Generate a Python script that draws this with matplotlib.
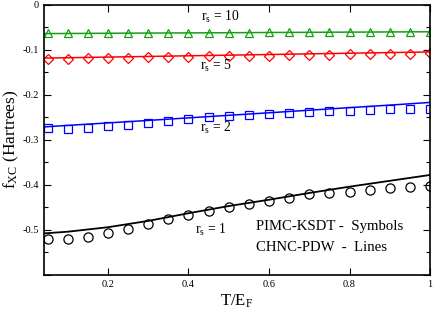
import numpy as np
import matplotlib
matplotlib.use("Agg")
import matplotlib.pyplot as plt
from matplotlib.ticker import MultipleLocator

plt.rcParams['font.family'] = ['Liberation Serif', 'DejaVu Serif']
plt.rcParams['mathtext.fontset'] = 'custom'
plt.rcParams['mathtext.rm'] = 'Liberation Serif'
plt.rcParams['mathtext.it'] = 'Liberation Serif'

# PIMC-KSDT symbols
t_sym = [0.05, 0.10, 0.15, 0.20, 0.25, 0.30, 0.35, 0.40, 0.45, 0.50,
         0.55, 0.60, 0.65, 0.70, 0.75, 0.80, 0.85, 0.90, 0.95, 1.00]
rs1_sym = [-0.520, -0.521, -0.516, -0.507, -0.498, -0.487, -0.476, -0.467, -0.457, -0.450,
           -0.442, -0.436, -0.430, -0.421, -0.418, -0.415, -0.411, -0.407, -0.405, -0.402]
rs2_sym = [-0.274, -0.2755, -0.274, -0.270, -0.2667, -0.263, -0.259, -0.253, -0.2496, -0.2467,
           -0.245, -0.242, -0.2407, -0.2385, -0.237, -0.235, -0.2333, -0.232, -0.231, -0.231]
rs5_sym = [-0.120, -0.120, -0.1195, -0.119, -0.118, -0.117, -0.1165, -0.116, -0.115, -0.1145,
           -0.114, -0.113, -0.1125, -0.112, -0.111, -0.1105, -0.110, -0.109, -0.1085, -0.108]
rs10_sym = [-0.0635, -0.0635, -0.063, -0.063, -0.063, -0.0628, -0.0625, -0.0625, -0.0622, -0.062,
            -0.062, -0.0618, -0.0615, -0.0615, -0.0612, -0.061, -0.061, -0.0608, -0.0605, -0.0605]

# CHNC-PDW lines
t_line = [0.04, 0.10, 0.20, 0.30, 0.40, 0.50, 0.60, 0.70, 0.80, 0.90, 1.00]
rs1_line = [-0.5078, -0.504, -0.494, -0.480, -0.463, -0.447, -0.433, -0.418, -0.404, -0.391, -0.378]
rs2_line = [-0.2715, -0.268, -0.2625, -0.257, -0.2513, -0.2456, -0.240, -0.2343, -0.2286, -0.223, -0.217]
rs5_line = [-0.1186, -0.1178, -0.1164, -0.115, -0.1135, -0.1121, -0.1107, -0.1092, -0.1078, -0.1064, -0.105]
rs10_line = [-0.0642, -0.0640, -0.0635, -0.0631, -0.0627, -0.0623, -0.0618, -0.0614, -0.0610, -0.0606, -0.0602]

fig = plt.figure(figsize=(4.36, 3.10), dpi=100)
ax = fig.add_axes([0.0998, 0.113, 0.8866, 0.872])

green = '#12a012'
ax.plot(t_line, rs1_line, color='black', lw=1.3)
ax.plot(t_line, rs2_line, color='#0000ff', lw=1.1)
ax.plot(t_line, rs5_line, color='#ff0000', lw=1.1)
ax.plot(t_line, rs10_line, color=green, lw=1.1)

ms = 6.2
ax.plot(t_sym, rs1_sym, 'o', mfc='none', mec='black', ms=ms + 0.4, mew=0.9, ls='none')
ax.plot(t_sym, rs2_sym, 's', mfc='none', mec='#0000ff', ms=ms - 0.6, mew=0.9, ls='none')
ax.plot(t_sym, rs5_sym, 'D', mfc='none', mec='#ff0000', ms=ms - 1.4, mew=0.9, ls='none')
ax.plot(t_sym, rs10_sym, '^', mfc='none', mec=green, ms=ms, mew=0.9, ls='none')

ax.set_xlim(0.04, 1.0)
ax.set_ylim(-0.6, 0.0)
ax.yaxis.set_minor_locator(MultipleLocator(0.05))
ax.tick_params(which='both', direction='in', top=True, right=True, labelsize=7.5)
ax.tick_params(which='major', length=5, width=0.8)
ax.tick_params(which='minor', length=3, width=0.8)
ax.set_xticks([0.2, 0.4, 0.6, 0.8, 1.0])
ax.set_xticklabels(['0.2', '0.4', '0.6', '0.8', '1'])
ax.set_yticks([0, -0.1, -0.2, -0.3, -0.4, -0.5, -0.6])
ax.set_yticklabels(['0', '-0.1', '-0.2', '-0.3', '-0.4', '-0.5', ''])
for s in ax.spines.values():
    s.set_linewidth(1.2)

ax.set_xlabel(r'T/E$_\mathrm{F}$', fontsize=12, labelpad=3)
ax.set_ylabel(r'f$_\mathrm{XC}$ (Hartrees)', fontsize=12.5, labelpad=1)

lab_fs = 9.8
ax.text(0.478, -0.027, r'r$_\mathrm{s}$ = 10', fontsize=lab_fs, ha='center', va='center')
ax.text(0.468, -0.137, r'r$_\mathrm{s}$ = 5', fontsize=lab_fs, ha='center', va='center')
ax.text(0.468, -0.274, r'r$_\mathrm{s}$ = 2', fontsize=lab_fs, ha='center', va='center')
ax.text(0.455, -0.500, r'r$_\mathrm{s}$ = 1', fontsize=lab_fs, ha='center', va='center')

ax.text(0.567, -0.493, 'PIMC-KSDT -  Symbols', fontsize=10.6, ha='left', va='center')
ax.text(0.567, -0.540, 'CHNC-PDW  -  Lines', fontsize=10.6, ha='left', va='center')

fig.savefig('out.png', dpi=100)
